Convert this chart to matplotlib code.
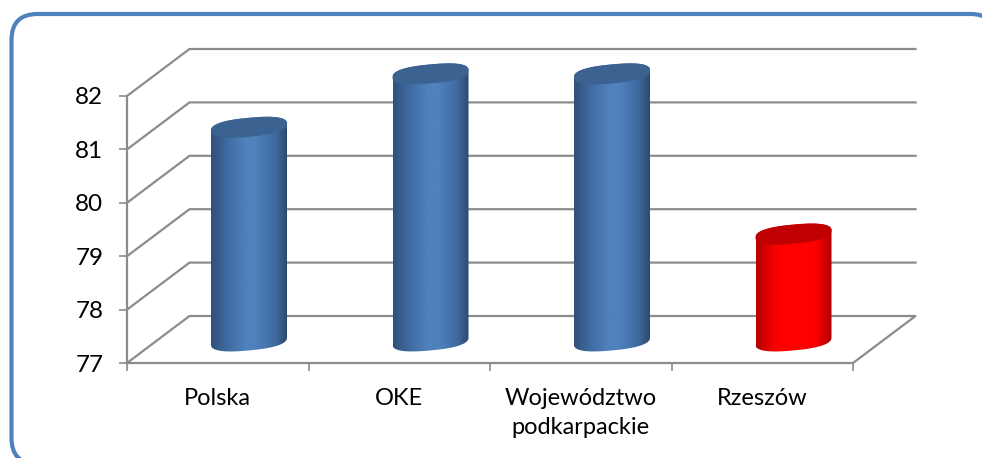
import numpy as np
import matplotlib
matplotlib.use("Agg")
import matplotlib.pyplot as plt
from matplotlib.colors import LinearSegmentedColormap
from matplotlib.patches import FancyBboxPatch, Polygon
from matplotlib.transforms import IdentityTransform

# Values
categories = ['Polska', 'OKE', 'Województwo\npodkarpackie', 'Rzeszów']
values = [81, 82, 82, 79]
y_ticks = [77, 78, 79, 80, 81, 82]

W, H = 982, 458
plt.rcParams['font.family'] = ['Lato', 'DejaVu Sans']

fig = plt.figure(figsize=(W / 100, H / 100), dpi=100)
ax = fig.add_axes([127 / W, (H - 363) / H, (853 - 127) / W, (363 - 96) / H])
ax.patch.set_visible(False)
ax.set_xlim(0, 4)
ax.set_ylim(77, 82)

# px to data units
px_x = 4 / (853 - 127)
px_y = 5 / (363 - 96)
depth_x = 62.5 * px_x
depth_y = 47 * px_y
grey = '#8c8c8c'

# rounded frame, runs off the right and bottom of the image
frame = FancyBboxPatch((11.5, -6), 985, 450, boxstyle='round,pad=0,rounding_size=26',
                       transform=IdentityTransform(), fc='white', ec='#4f81bd', lw=3.0, zorder=-5)
fig.add_artist(frame)

# back wall and side wall grid
for v in y_ticks[1:]:
    ax.plot([0, depth_x, 4 + depth_x], [v, v + depth_y, v + depth_y],
            color=grey, lw=1.6, clip_on=False, zorder=1)
# floor
ax.plot([0, depth_x, 4 + depth_x, 4], [77, 77 + depth_y, 77 + depth_y, 77],
        color=grey, lw=1.6, clip_on=False, zorder=1)

blue_map = LinearSegmentedColormap.from_list('b', [(0, '#2f5078'), (0.2, '#3f6aa0'), (0.45, '#4f81bd'),
                                                   (0.6, '#4f81bd'), (0.85, '#3f6aa0'), (1, '#2c4a70')])
red_map = LinearSegmentedColormap.from_list('r', [(0, '#b00000'), (0.22, '#f00000'), (0.35, '#ff0000'),
                                                  (0.78, '#ff0000'), (1, '#b00000')])
grad = np.linspace(0, 1, 128).reshape(1, -1)
t = np.linspace(0, 2 * np.pi, 241)

half_w = 38 * px_x
skew = 3.5 * px_y
half_h = 9.5 * px_y

# slightly squared ellipse, the caps are rounder at the ends than a true one
cos_t = np.sign(np.cos(t)) * np.abs(np.cos(t)) ** 0.8
sin_t = np.sign(np.sin(t)) * np.abs(np.sin(t)) ** 0.8

for i, val in enumerate(values):
    cx = i + 0.5 + depth_x / 2
    base = 77 + depth_y * 0.47
    top = val + depth_y * 0.47
    ex = half_w * cos_t
    ey = skew * cos_t - half_h * sin_t
    front = t <= np.pi
    back = t >= np.pi
    xs = np.r_[cx + ex[front], cx + ex[back]]
    ys = np.r_[base + ey[front], top + ey[back]]
    body = Polygon(np.c_[xs, ys], closed=True, transform=ax.transData, fc='none', ec='none')
    ax.add_patch(body)
    body.set_clip_on(False)
    is_red = categories[i] == 'Rzeszów'
    im = ax.imshow(grad, cmap=red_map if is_red else blue_map, aspect='auto', zorder=3,
                   extent=[cx - half_w, cx + half_w, 76, 84], interpolation='bilinear')
    im.set_clip_box(fig.bbox)
    im.set_clip_path(body)
    ax.fill(cx + ex, top + ey, color='#c00000' if is_red else '#3b6291', lw=0, zorder=4, clip_on=False)

ax.set_xlim(0, 4)
ax.set_ylim(77, 82)

for s in ['top', 'right']:
    ax.spines[s].set_visible(False)
for s in ['left', 'bottom']:
    ax.spines[s].set_color(grey)
    ax.spines[s].set_linewidth(1.6)

ax.set_yticks(y_ticks)
ax.tick_params(axis='y', length=6, width=1.2, color=grey, labelsize=17.5, pad=11, labelcolor='black')
ax.set_xticks(range(5))
ax.set_xticklabels([])
ax.set_xticks([i + 0.5 for i in range(4)], labels=categories, minor=True)
ax.tick_params(axis='x', which='major', length=6, width=1.2, color=grey)
ax.tick_params(axis='x', which='minor', length=0, labelsize=17, pad=18, labelcolor='black')
for lab in ax.get_xticklabels(minor=True):
    lab.set_linespacing(1.5)

fig.savefig('out.png', dpi=100)
